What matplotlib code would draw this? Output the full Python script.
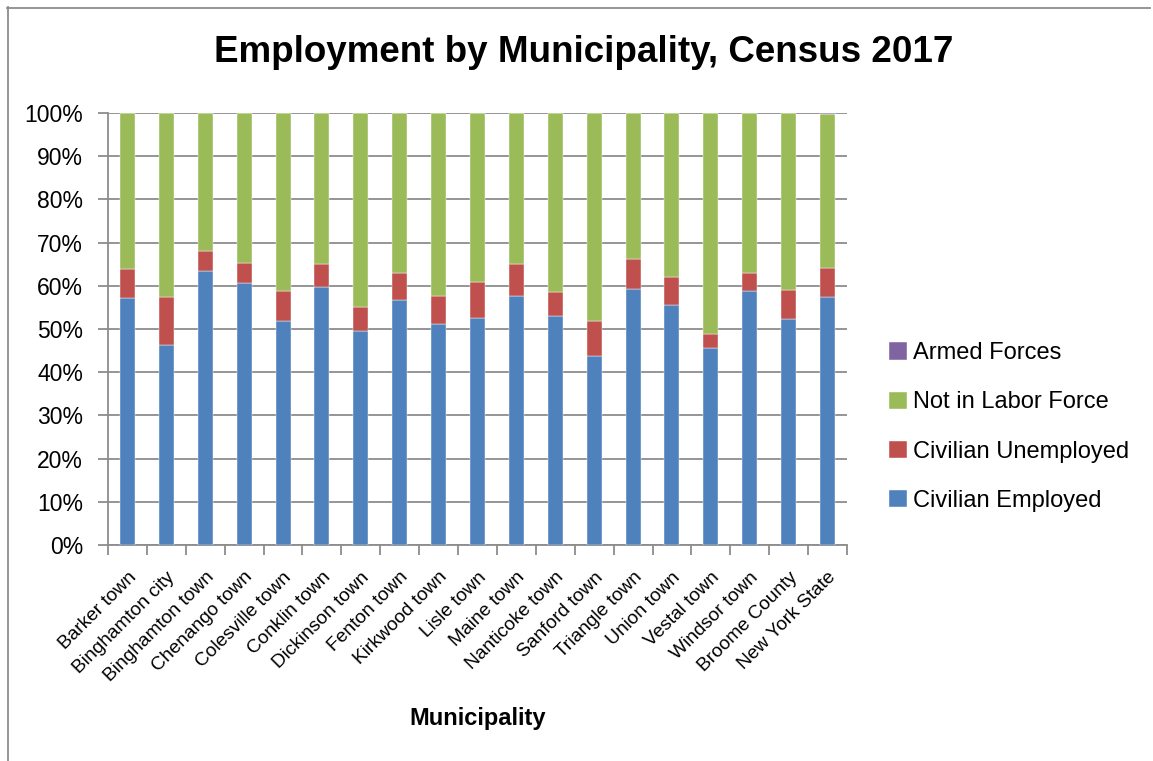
import matplotlib
matplotlib.use("Agg")
import matplotlib.pyplot as plt
from matplotlib.lines import Line2D
import numpy as np

plt.rcParams['font.family'] = ['Liberation Sans', 'DejaVu Sans']

categories = ["Barker town", "Binghamton city", "Binghamton town", "Chenango town",
              "Colesville town", "Conklin town", "Dickinson town", "Fenton town",
              "Kirkwood town", "Lisle town", "Maine town", "Nanticoke town",
              "Sanford town", "Triangle town", "Union town", "Vestal town",
              "Windsor town", "Broome County", "New York State"]

civilian_employed = [57.1, 46.3, 63.4, 60.6, 51.9, 59.7, 49.6, 56.7, 51.2, 52.6,
                     57.7, 53.0, 43.7, 59.2, 55.6, 45.6, 58.9, 52.2, 57.5]
civilian_unemployed = [6.7, 11.0, 4.7, 4.7, 7.0, 5.3, 5.6, 6.3, 6.5, 8.2,
                       7.4, 5.6, 8.2, 7.1, 6.4, 3.3, 4.1, 6.9, 6.6]
not_in_labor_force = [36.2, 42.6, 31.9, 34.6, 41.1, 35.0, 44.7, 37.0, 42.2, 39.2,
                      34.9, 41.4, 48.1, 33.6, 37.9, 51.0, 37.0, 40.8, 35.7]
armed_forces = [0.0, 0.1, 0.0, 0.1, 0.0, 0.0, 0.1, 0.0, 0.1, 0.0,
                0.0, 0.0, 0.0, 0.1, 0.1, 0.1, 0.0, 0.1, 0.2]

series_names = ["Civilian Employed", "Civilian Unemployed", "Not in Labor Force", "Armed Forces"]
colors = ["#4F81BD", "#C0504D", "#9BBB59", "#8064A2"]

data = np.array([civilian_employed, civilian_unemployed, not_in_labor_force, armed_forces], dtype=float)
totals = data.sum(axis=0)
pct = data / totals * 100.0

W, H = 1153, 761
fig = plt.figure(figsize=(W / 100, H / 100), dpi=100)
ax = fig.add_axes([108 / W, 1 - 545 / H, (847 - 108) / W, (545 - 113) / H])

x = np.arange(len(categories))
bottom = np.zeros(len(categories))
handles = []
for vals, name, col in zip(pct, series_names, colors):
    b = ax.bar(x, vals, width=0.385, bottom=bottom, color=col, label=name,
               edgecolor='white', linewidth=0.3, zorder=3)
    handles.append(b)
    bottom += vals

ax.set_xlim(-0.5, len(categories) - 0.5)
ax.set_ylim(0, 100)
ax.set_yticks(np.arange(0, 101, 10))
ax.set_yticklabels([f"{v}%" for v in range(0, 101, 10)], fontsize=16.5)
ax.yaxis.grid(True, color='#8c8c8c', linewidth=1.3, zorder=0)
ax.set_axisbelow(True)

ax.set_xticks(x)
ax.set_xticklabels(categories, rotation=45, ha='right', rotation_mode='anchor', fontsize=13.8)
ax.set_xticks(np.arange(-0.5, len(categories), 1), minor=True)
ax.tick_params(axis='x', which='major', length=0, pad=17)
ax.tick_params(axis='x', which='minor', length=7, width=1.3, color='#8c8c8c', direction='out')
ax.tick_params(axis='y', length=7, width=1.3, color='#8c8c8c', direction='out', pad=11)

for s in ['top', 'right']:
    ax.spines[s].set_visible(False)
for s in ['left', 'bottom']:
    ax.spines[s].set_color('#8c8c8c')
    ax.spines[s].set_linewidth(1.3)

fig.text(584 / W, 1 - 52 / H, "Employment by Municipality, Census 2017",
         fontsize=26.5, fontweight='bold', ha='center', va='center')
fig.text(478 / W, 1 - 718 / H, "Municipality", fontsize=17, fontweight='bold',
         ha='center', va='center')

leg = fig.legend(handles[::-1], series_names[::-1], loc='center left',
                 bbox_to_anchor=(880 / W, 1 - 427 / H), frameon=False, fontsize=17,
                 handlelength=0.75, handleheight=0.75, handletextpad=0.25,
                 labelspacing=1.15, borderaxespad=0)

fig.add_artist(Line2D([7 / W, 1150 / W], [1 - 7.5 / H, 1 - 7.5 / H],
                      color='#8c8c8c', linewidth=1.3, transform=fig.transFigure))
fig.add_artist(Line2D([7.5 / W, 7.5 / W], [1 - 7 / H, 0],
                      color='#8c8c8c', linewidth=1.3, transform=fig.transFigure))

fig.savefig("out.png", dpi=100)
